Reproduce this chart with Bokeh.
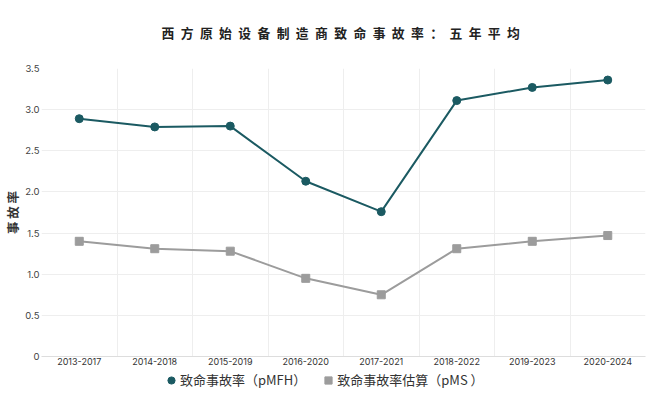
from bokeh.plotting import figure
from bokeh.layouts import column
from bokeh.models import (FixedTicker, Legend, LegendItem, Label, ColumnDataSource,
                          NumeralTickFormatter)
from bokeh.embed import file_html
from bokeh.resources import INLINE

periods = ["2013-2017", "2014-2018", "2015-2019", "2016-2020",
           "2017-2021", "2018-2022", "2019-2023", "2020-2024"]
pmfh = [2.89, 2.79, 2.80, 2.13, 1.76, 3.11, 3.27, 3.36]
pms = [1.40, 1.31, 1.28, 0.95, 0.75, 1.31, 1.40, 1.47]
y_ticks = [0, 0.5, 1.0, 1.5, 2.0, 2.5, 3.0, 3.5]
series_names = ["致命事故率（pMFH）", "致命事故率估算（pMS ）"]
title_text = "西方原始设备制造商致命事故率：五年平均"

idx = list(range(len(periods)))
src = ColumnDataSource(dict(x=idx, pmfh=pmfh, pms=pms))

TEAL = "#1b5a62"
GRAY = "#9c9c9c"
CJK = "Noto Sans CJK SC"


def strip(height):
    f = figure(width=660, height=height, output_backend="svg",
               toolbar_location=None, x_axis_location=None, y_axis_location=None,
               x_range=(-0.5, len(periods) - 0.5), y_range=(10, 11),
               min_border_left=37, min_border_right=15, min_border_top=0,
               min_border_bottom=0)
    f.outline_line_color = None
    f.grid.visible = False
    return f


# title strip
t = strip(50)
t.add_layout(Label(x=120, y=18, x_units="screen", y_units="screen",
                   text="\u2002".join(title_text), text_font=CJK,
                   text_font_size="12.8px", text_font_style="bold",
                   text_color="#222222", text_align="left",
                   text_baseline="middle"))

p = figure(width=660, height=318, output_backend="svg", toolbar_location=None,
           x_range=(-0.5, len(periods) - 0.5), y_range=(0, 3.5),
           min_border_left=37, min_border_right=15, min_border_top=18,
           min_border_bottom=12)
p.outline_line_color = None
p.background_fill_color = "white"

# axes
p.xaxis.ticker = FixedTicker(ticks=idx)
p.xaxis.major_label_overrides = {i: s for i, s in enumerate(periods)}
p.xaxis.major_tick_line_color = None
p.xaxis.major_tick_out = 0
p.xaxis.major_tick_in = 0
p.xaxis.minor_tick_line_color = None
p.xaxis.axis_line_color = "#dddddd"
p.xaxis.major_label_text_font = "Inter"
p.xaxis.major_label_text_font_size = "9px"
p.xaxis.major_label_text_color = "#333333"
p.xaxis.major_label_standoff = 1

p.yaxis.ticker = FixedTicker(ticks=y_ticks)
p.yaxis.formatter = NumeralTickFormatter(format="0.0")
p.yaxis.major_label_overrides = {0: "0"}
p.yaxis.axis_line_color = None
p.yaxis.major_tick_line_color = None
p.yaxis.major_tick_out = 0
p.yaxis.major_tick_in = 0
p.yaxis.minor_tick_line_color = None
p.yaxis.major_label_text_font = "Inter"
p.yaxis.major_label_text_font_size = "9.5px"
p.yaxis.major_label_text_color = "#444444"
p.yaxis.major_label_standoff = 2
p.yaxis.axis_label = "事 故 率"
p.yaxis.axis_label_text_font = CJK
p.yaxis.axis_label_text_font_size = "12.5px"
p.yaxis.axis_label_text_font_style = "bold"
p.yaxis.axis_label_text_color = "#333333"
p.yaxis.axis_label_standoff = 0

p.xgrid.ticker = FixedTicker(ticks=[i - 0.5 for i in range(len(periods) + 1)])
p.xgrid.grid_line_color = "#eeeeee"
p.ygrid.grid_line_color = "#eeeeee"

p.line("x", "pmfh", source=src, line_color=TEAL, line_width=2)
p.scatter("x", "pmfh", source=src, marker="circle", size=8,
          fill_color=TEAL, line_color=TEAL)
p.line("x", "pms", source=src, line_color=GRAY, line_width=2)
p.scatter("x", "pms", source=src, marker="square", size=8,
          fill_color=GRAY, line_color=GRAY)

# legend strip below the chart (its glyph renderers sit outside its own view)
q = strip(26)
g1 = q.scatter("x", "pmfh", source=src, marker="circle", size=8,
               fill_color=TEAL, line_color=TEAL)
g2 = q.scatter("x", "pms", source=src, marker="square", size=8,
               fill_color=GRAY, line_color=GRAY)
legend = Legend(items=[LegendItem(label=series_names[0], renderers=[g1]),
                       LegendItem(label=series_names[1], renderers=[g2])],
                orientation="horizontal", location=(121, 5),
                label_text_font=CJK, label_text_font_size="13px",
                label_text_color="#333333", glyph_width=18, glyph_height=18,
                label_standoff=0, spacing=13, padding=1, margin=0,
                border_line_color=None, background_fill_alpha=0)
q.add_layout(legend, "center")

layout = column(t, p, q, spacing=0)
open("out.html", "w").write(file_html(layout, INLINE))
